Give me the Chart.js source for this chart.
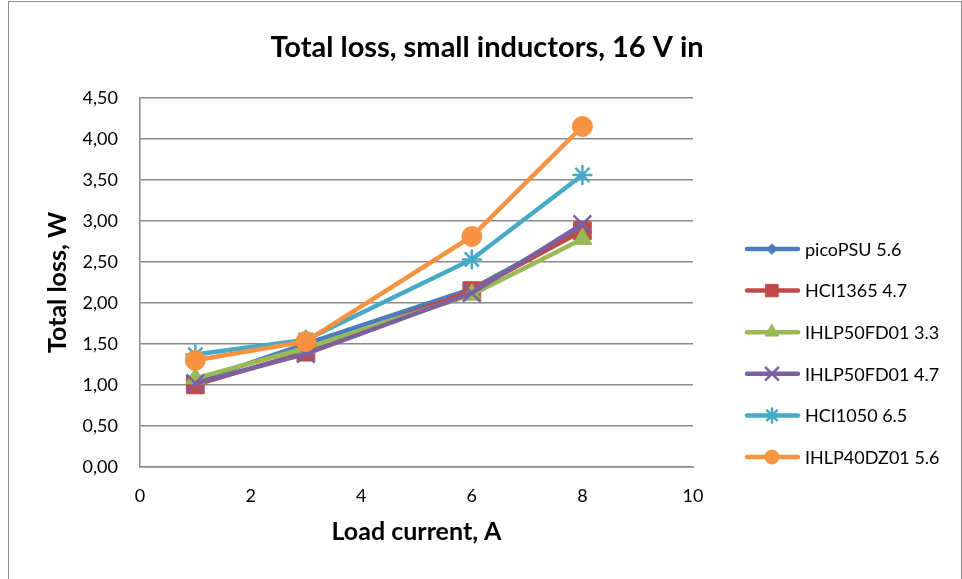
<!DOCTYPE html>
<html>
<head>
<meta charset="utf-8">
<title>Total loss, small inductors</title>
<script src="https://cdn.jsdelivr.net/npm/chart.js@4/dist/chart.umd.min.js"></script>
<style>
  html, body { margin: 0; padding: 0; background: #fff; }
  #frame { position: absolute; left: 8px; top: 1px; width: 952px; height: 600px; border: 1px solid #8c8c8c; }
  #wrap { position: absolute; left: 0; top: 0; width: 962px; height: 579px; }
</style>
</head>
<body>
<div id="frame"></div>
<div id="wrap"><canvas id="lossChart" width="962" height="579"></canvas></div>
<script>
// data
const loadCurrent = [1, 3, 6, 8];
const seriesNames = ['picoPSU 5.6', 'HCI1365 4.7', 'IHLP50FD01 3.3', 'IHLP50FD01 4.7', 'HCI1050 6.5', 'IHLP40DZ01 5.6'];
const picoPSU = [1.04, 1.50, 2.17, 2.90];
const hci1365 = [1.00, 1.40, 2.15, 2.88];
const ihlp50_33 = [1.08, 1.45, 2.10, 2.78];
const ihlp50_47 = [1.02, 1.38, 2.12, 2.96];
const hci1050 = [1.37, 1.55, 2.53, 3.56];
const ihlp40 = [1.30, 1.53, 2.81, 4.15];
const yTicks = [0, 0.5, 1, 1.5, 2, 2.5, 3, 3.5, 4, 4.5];

const seriesValues = [picoPSU, hci1365, ihlp50_33, ihlp50_47, hci1050, ihlp40];
const colors = ['#4A7EBB', '#BE4B48', '#98B954', '#7D60A0', '#46AAC5', '#F69240'];
const markers = ['rectRot', 'rect', 'triangle', 'crossRot', 'star', 'circle'];
const markerSize = [7.5, 12.5, 11, 12.5, 10, 10];

const FONT = "Lato, 'Open Sans', sans-serif";

const datasets = seriesValues.map((vals, i) => ({
  label: seriesNames[i],
  data: vals.map((v, k) => ({ x: loadCurrent[k], y: v })),
  borderColor: colors[i],
  backgroundColor: colors[i],
  borderWidth: 4.5,
  pointStyle: markers[i],
  pointRadius: markerSize[i],
  pointBorderWidth: (markers[i] === 'crossRot' || markers[i] === 'star') ? 2.5 : 1,
  pointBackgroundColor: colors[i],
  pointBorderColor: colors[i],
  tension: 0,
  order: seriesValues.length - i
}));

// legend on the right: line + marker + name
const sideLegend = {
  id: 'sideLegend',
  afterDraw(chart) {
    const ctx = chart.ctx;
    chart.data.datasets.forEach((ds, i) => {
      const y = 249 + i * 41.6;
      ctx.save();
      ctx.strokeStyle = ds.borderColor;
      ctx.fillStyle = ds.borderColor;
      ctx.lineWidth = ds.borderWidth;
      ctx.lineCap = 'round';
      ctx.beginPath();
      ctx.moveTo(747, y);
      ctx.lineTo(798, y);
      ctx.stroke();
      ctx.lineWidth = ds.pointBorderWidth;
      Chart.helpers.drawPoint(ctx, {
        pointStyle: ds.pointStyle,
        radius: ds.pointRadius * 0.7,
        borderWidth: ds.pointBorderWidth,
        rotation: 0
      }, 772, y);
      ctx.fillStyle = '#000';
      ctx.font = '18px ' + FONT;
      ctx.textBaseline = 'middle';
      ctx.textAlign = 'left';
      ctx.fillText(ds.label, 805, y + 1);
      ctx.restore();
    });
  }
};

new Chart(document.getElementById('lossChart'), {
  type: 'line',
  data: { datasets },
  options: {
    responsive: false,
    animation: false,
    layout: { padding: { left: 12, right: 0, top: 0, bottom: 0 } },
    plugins: {
      legend: { display: false },
      tooltip: { enabled: false },
      title: {
        display: true,
        text: 'Total loss, small inductors, 16 V in',
        color: '#000',
        font: { family: FONT, size: 29, weight: 'bold' },
        padding: { top: 30, bottom: 33 }
      }
    },
    scales: {
      x: {
        type: 'linear',
        min: 0,
        max: 10,
        ticks: { stepSize: 2, color: '#000', font: { family: FONT, size: 18 }, padding: 18 },
        grid: { display: false, drawTicks: false },
        border: { display: true, color: '#8a8a8a', width: 1.5 },
        title: {
          display: true,
          text: 'Load current, A',
          color: '#000',
          font: { family: FONT, size: 25, weight: 'bold' },
          padding: { top: 0, bottom: 32 }
        },
        afterFit(scale) { scale.height = 112; }
      },
      y: {
        min: 0,
        max: 4.5,
        afterBuildTicks(scale) { scale.ticks = yTicks.map(v => ({ value: v })); },
        ticks: {
          color: '#000',
          font: { family: FONT, size: 18 },
          padding: 22,
          callback: v => v.toFixed(2).replace('.', ',')
        },
        grid: { color: '#8a8a8a', lineWidth: 1.5, drawTicks: false },
        border: { display: true, color: '#8a8a8a', width: 1.5 },
        title: {
          display: true,
          text: 'Total loss, W',
          color: '#000',
          font: { family: FONT, size: 25, weight: 'bold' },
          padding: { top: 31, bottom: 0 }
        },
        afterFit(scale) { scale.width = 128; }
      },
      // empty box that keeps room for the legend on the right
      legendSpace: {
        type: 'linear',
        position: 'right',
        display: true,
        grid: { display: false, drawTicks: false },
        ticks: { display: false },
        border: { display: false },
        afterFit(scale) { scale.width = 269; }
      }
    }
  },
  plugins: [sideLegend]
});
</script>
</body>
</html>
